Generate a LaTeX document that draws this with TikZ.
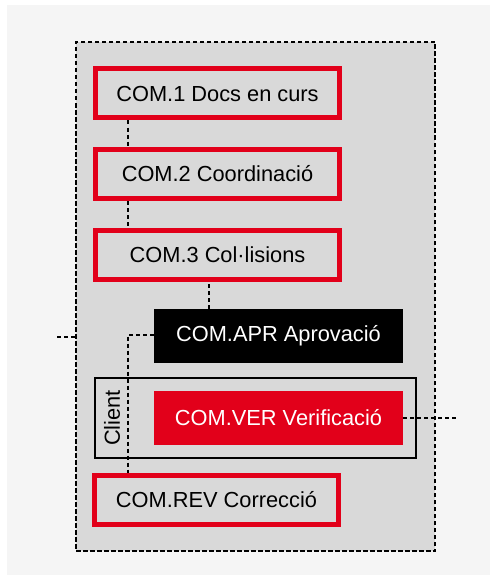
\documentclass[tikz,border=0pt]{standalone}
\usepackage{fontspec}
\setmainfont{Liberation Sans}
\definecolor{bgpage}{HTML}{F5F5F5}
\definecolor{bginner}{HTML}{D9D9D9}
\definecolor{redc}{HTML}{E2001A}
\begin{document}
\begin{tikzpicture}[x=1pt,y=-1pt,
  txt/.style={font=\fontsize{21.8}{25}\selectfont, inner sep=0pt},
  redbox/.style={txt, draw=redc, line width=5pt, fill=bginner, minimum width=244pt, minimum height=49pt, text=black},
  darkbox/.style={txt, fill=black, text=white, minimum width=249pt, minimum height=54pt},
  redfill/.style={txt, fill=redc, text=white, minimum width=249pt, minimum height=54pt},
  conn/.style={line width=2pt, dash pattern=on 4pt off 3pt},
]
\useasboundingbox (0,0) rectangle (490,575);
\fill[bgpage] (7,5) rectangle (490,575);
\node[draw=black, fill=bginner, line width=2pt, dash pattern=on 4.5pt off 2.5pt, minimum width=359pt, minimum height=509pt, inner sep=0pt] (outer) at (255.5,296.5) {};

\node[redbox] (c1) at (217.5,93.5) {COM.1 Docs en curs};
\node[redbox] (c2) at (217.5,174) {COM.2 Coordinació};
\node[redbox] (c3) at (217.5,255) {COM.3 Col·lisions};
\node[darkbox] (apr) at (278.5,336) {COM.APR Aprovació};
\node[draw=black, line width=2pt, minimum width=321pt, minimum height=80pt, inner sep=0pt] (client) at (255.5,418) {};
\node[txt, rotate=90] (clientlbl) at (112,418) {Client};
\node[redfill] (ver) at (278.5,418) {COM.VER Verificació};
\node[redbox] (rev) at (216.5,500) {COM.REV Correcció};

\coordinate (lin) at (57,337);
\coordinate (rout) at (456,418);

\draw[conn] ([xshift=34.5pt]c1.south west) -- ([xshift=34.5pt]c2.north west);
\draw[conn] ([xshift=34.5pt]c2.south west) -- ([xshift=34.5pt]c3.north west);
\draw[conn] ([xshift=55pt]apr.north west) -- ([xshift=55pt]apr.north west |- c3.south);
\draw[conn] ([yshift=1pt]apr.west) -| ([xshift=35.5pt]rev.north west);
\draw[conn] (lin) -- (outer.west |- lin);
\draw[conn] (ver.east) -- (rout);
\end{tikzpicture}
\end{document}
